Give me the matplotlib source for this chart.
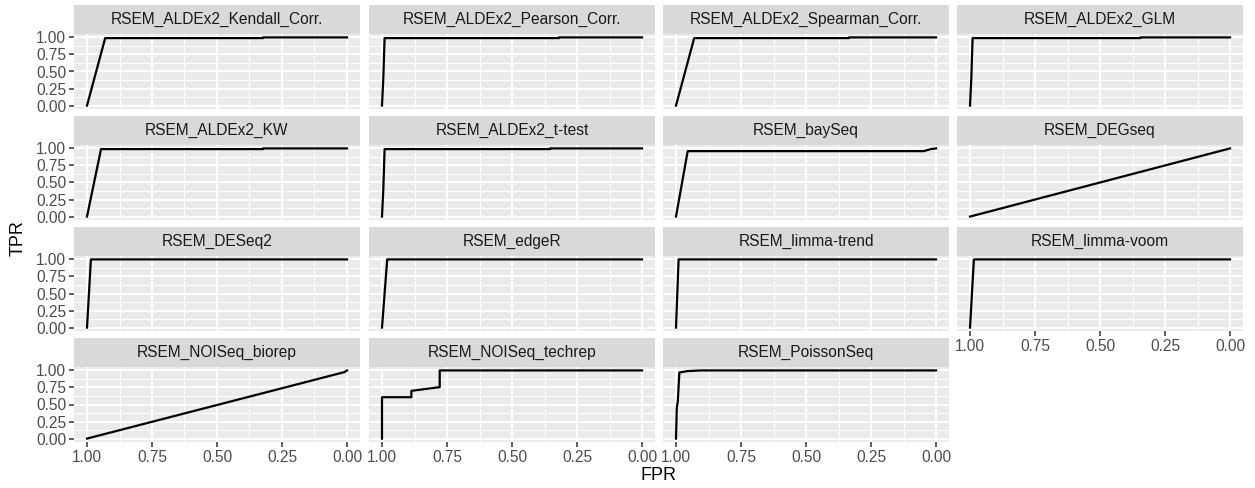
import matplotlib.pyplot as plt

plt.rcParams['font.family'] = ['Liberation Sans', 'DejaVu Sans']

# panel names (facet order)
methods = ['RSEM_ALDEx2_Kendall_Corr.', 'RSEM_ALDEx2_Pearson_Corr.',
           'RSEM_ALDEx2_Spearman_Corr.', 'RSEM_ALDEx2_GLM',
           'RSEM_ALDEx2_KW', 'RSEM_ALDEx2_t-test', 'RSEM_baySeq', 'RSEM_DEGseq',
           'RSEM_DESeq2', 'RSEM_edgeR', 'RSEM_limma-trend', 'RSEM_limma-voom',
           'RSEM_NOISeq_biorep', 'RSEM_NOISeq_techrep', 'RSEM_PoissonSeq']

# curve points (x axis is reversed: 1.00 on the left)
fpr_vals = [
    [1.0, 0.93, 0.323, 0.323, 0.0],
    [1.0, 0.995, 0.99, 0.32, 0.32, 0.0],
    [1.0, 0.93, 0.335, 0.335, 0.0],
    [1.0, 0.995, 0.99, 0.345, 0.345, 0.0],
    [1.0, 0.946, 0.323, 0.323, 0.0],
    [1.0, 0.995, 0.99, 0.353, 0.353, 0.0],
    [1.0, 0.955, 0.047, 0.02, 0.0],
    [1.0, 0.0],
    [1.0, 0.985, 0.0],
    [1.0, 0.98, 0.0],
    [1.0, 0.99, 0.0],
    [1.0, 0.985, 0.0],
    [1.0, 0.01, 0.0],
    [1.0, 1.0, 0.887, 0.887, 0.778, 0.778, 0.0],
    [1.0, 0.997, 0.993, 0.987, 0.955, 0.903, 0.0],
]
tpr_vals = [
    [0.0, 0.99, 0.99, 1.0, 1.0],
    [0.0, 0.4, 0.99, 0.99, 1.0, 1.0],
    [0.0, 0.99, 0.99, 1.0, 1.0],
    [0.0, 0.4, 0.99, 0.99, 1.0, 1.0],
    [0.0, 0.99, 0.99, 1.0, 1.0],
    [0.0, 0.4, 0.99, 0.99, 1.0, 1.0],
    [0.0, 0.96, 0.96, 0.99, 1.0],
    [0.0, 1.0],
    [0.0, 1.0, 1.0],
    [0.0, 1.0, 1.0],
    [0.0, 1.0, 1.0],
    [0.0, 1.0, 1.0],
    [0.0, 0.975, 1.0],
    [0.0, 0.607, 0.607, 0.70, 0.755, 1.0, 1.0],
    [0.0, 0.45, 0.55, 0.97, 0.99, 1.0, 1.0],
]

x_ticks = [1.0, 0.75, 0.5, 0.25, 0.0]
x_labels = ['1.00', '0.75', '0.50', '0.25', '0.00']
y_ticks = [0.0, 0.25, 0.5, 0.75, 1.0]
y_labels = ['0.00', '0.25', '0.50', '0.75', '1.00']

W, H = 1255, 488
fig = plt.figure(figsize=(W / 100, H / 100), dpi=100)

col_x = [74, 369, 663, 957]
panel_w = 286
row_top = [5, 116, 227, 338]
strip_h = 29
panel_h = 75

for i, name in enumerate(methods):
    r, c = divmod(i, 4)
    left = col_x[c] / W
    w = panel_w / W
    s_top = row_top[r]
    p_top = s_top + strip_h

    # strip
    sax = fig.add_axes([left, 1 - p_top / H, w, strip_h / H])
    sax.set_facecolor('#D9D9D9')
    sax.set_xticks([])
    sax.set_yticks([])
    for sp in sax.spines.values():
        sp.set_visible(False)
    sax.text(0.5, 0.5, name, ha='center', va='center', fontsize=11.2,
             color='#1A1A1A', transform=sax.transAxes)

    # panel
    ax = fig.add_axes([left, 1 - (p_top + panel_h) / H, w, panel_h / H])
    ax.set_facecolor('#EBEBEB')
    for sp in ax.spines.values():
        sp.set_visible(False)
    ax.set_xlim(1.05, -0.05)
    ax.set_ylim(-0.05, 1.05)
    ax.set_xticks(x_ticks)
    ax.set_yticks(y_ticks)
    ax.set_xticks([0.875, 0.625, 0.375, 0.125], minor=True)
    ax.set_yticks([0.125, 0.375, 0.625, 0.875], minor=True)
    ax.grid(which='major', color='white', linewidth=1.4)
    ax.grid(which='minor', color='white', linewidth=0.7)
    ax.set_axisbelow(True)
    ax.tick_params(which='minor', length=0)
    ax.tick_params(which='major', length=3.5, width=1.1, color='#333333',
                   labelsize=11.2, labelcolor='#4D4D4D', pad=2)

    bottom = i + 4 >= len(methods)
    if bottom:
        ax.set_xticklabels(x_labels)
    else:
        ax.tick_params(axis='x', length=0, labelbottom=False)
    if c == 0:
        ax.set_yticklabels(y_labels)
    else:
        ax.tick_params(axis='y', length=0, labelleft=False)

    ax.plot(fpr_vals[i], tpr_vals[i], color='black', linewidth=1.6)

fig.text(658 / W, 1 - 476 / H, 'FPR', ha='center', va='center', fontsize=13)
fig.text(18 / W, 1 - 238 / H, 'TPR', ha='center', va='center', fontsize=13,
         rotation=90)

fig.savefig('out.png', dpi=100)
